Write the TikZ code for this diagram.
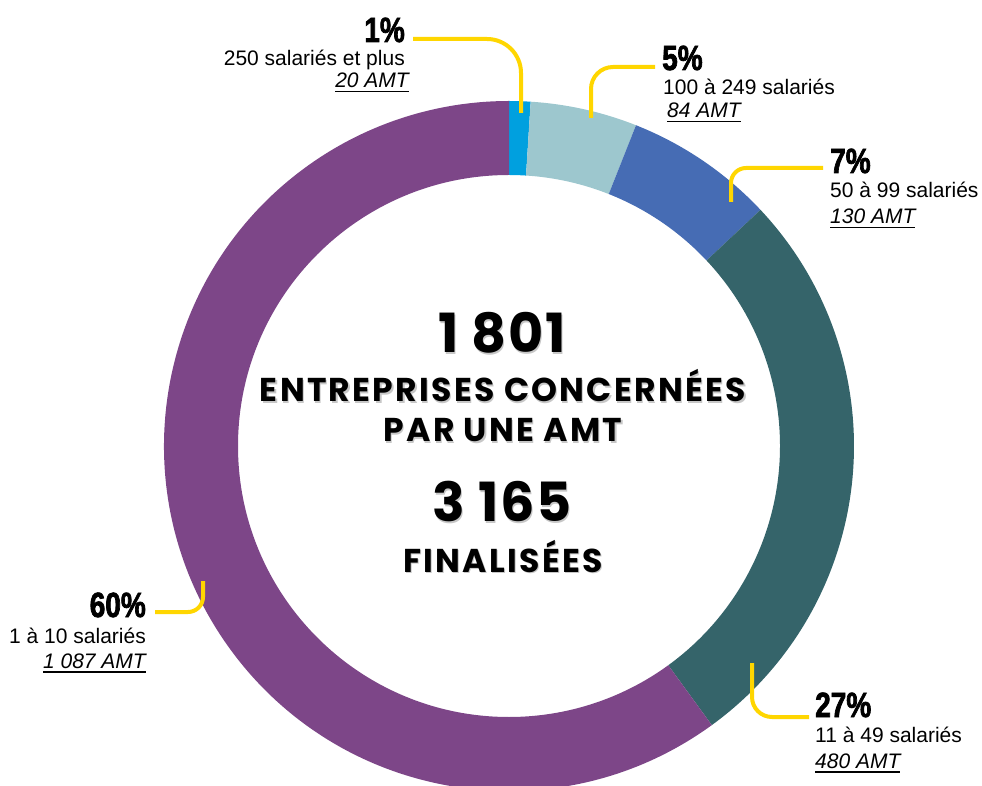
\documentclass[tikz,border=0pt]{standalone}
\usepackage{fontspec}
\usetikzlibrary{calc}
\setmainfont{Liberation Sans}
\newfontfamily\popfont{Poppins}[LetterSpace=7]
\newfontfamily\popnum{Poppins}[LetterSpace=3]
\newfontfamily\pctfont{Liberation Sans}[FakeStretch=0.8,FakeBold=2]
\definecolor{cpurple}{RGB}{125,70,136}
\definecolor{cteal}{RGB}{53,100,106}
\definecolor{cblue}{RGB}{70,108,180}
\definecolor{clight}{RGB}{157,199,206}
\definecolor{cbright}{RGB}{0,160,223}
\definecolor{cyellow}{RGB}{255,214,0}
\newcommand\ulx[1]{\setbox0=\hbox{#1}\rlap{\rule[-4.5pt]{\wd0}{1.8pt}}\box0}
\newcommand\shd[1]{\leavevmode\rlap{\kern1.2pt\raisebox{-1.2pt}{\textcolor{black!22}{#1}}}#1}
\newcommand\seg[3]{\fill[#1] ($(509,339)+(#2:345)$) arc[start angle=#2,end angle=#3,radius=345] -- ($(509,339)+(#3:271)$) arc[start angle=#3,end angle=#2,radius=271] -- cycle;}
\begin{document}
\begin{tikzpicture}[x=1pt,y=1pt,
  pct/.style={inner sep=0pt,font=\pctfont\bfseries\fontsize{35}{35}\selectfont},
  lbl/.style={inner sep=0pt,font=\fontsize{21}{24}\selectfont},
  amt/.style={inner sep=0pt,font=\itshape\fontsize{21}{24}\selectfont},
  bignum/.style={inner sep=0pt,font=\popnum\bfseries\fontsize{54}{54}\selectfont},
  bigtxt/.style={inner sep=0pt,font=\popfont\bfseries\fontsize{33}{36}\selectfont},
  leader/.style={draw=cyellow,line width=4pt}]
\useasboundingbox (0,0) rectangle (982,785);
% donut segments
\seg{cbright}{90}{86.4}
\seg{clight}{86.4}{68.4}
\seg{cblue}{68.4}{43.2}
\seg{cteal}{43.2}{-54}
\seg{cpurple}{-54}{-270}
% centre texts
\node[bignum,anchor=base] (n1) at (502,432) {\shd{1 801}};
\node[bigtxt,anchor=base] (t1) at (503,383) {\shd{ENTREPRISES CONCERNÉES}};
\node[bigtxt,anchor=base] (t2) at (503,343) {\shd{PAR UNE AMT}};
\node[bignum,anchor=base] (n2) at (502,263) {\shd{3 165}};
\node[bigtxt,anchor=base] (t3) at (503,213) {\shd{FINALISÉES}};
% 1%
\node[pct,anchor=base east] (p1) at (405,743) {1\%};
\node[lbl,anchor=base east] (l1) at (405,719) {250 salariés et plus};
\node[amt,anchor=base east] (a1) at (409,697) {\ulx{20 AMT}};
% 5%
\node[pct,anchor=base west] (p5) at (662,715) {5\%};
\node[lbl,anchor=base west] (l5) at (663,690) {100 à 249 salariés};
\node[amt,anchor=base west] (a5) at (667,667) {\ulx{84 AMT}};
% 7%
\node[pct,anchor=base west] (p7) at (830,612) {7\%};
\node[lbl,anchor=base west] (l7) at (830,587) {50 à 99 salariés};
\node[amt,anchor=base west] (a7) at (830,561) {\ulx{130 AMT}};
% 60%
\node[pct,anchor=base east] (p60) at (146,168) {60\%};
\node[lbl,anchor=base east] (l60) at (146,142) {1 à 10 salariés};
\node[amt,anchor=base east] (a60) at (146,117) {\ulx{1 087 AMT}};
% 27%
\node[pct,anchor=base west] (p27) at (815,68) {27\%};
\node[lbl,anchor=base west] (l27) at (815,43) {11 à 49 salariés};
\node[amt,anchor=base west] (a27) at (815,17) {\ulx{480 AMT}};
% leader lines
\coordinate (s1) at (413,746); \coordinate (c1) at (521,746); \coordinate (e1) at (521,672);
\coordinate (s5) at (655,718); \coordinate (c5) at (591,718); \coordinate (e5) at (591,667);
\coordinate (s7) at (823,617); \coordinate (c7) at (731,617); \coordinate (e7) at (731,583);
\coordinate (s60) at (155,173); \coordinate (c60) at (203,173); \coordinate (e60) at (203,204);
\coordinate (s27) at (809,68); \coordinate (c27) at (752,68); \coordinate (e27) at (752,122);
\draw[leader,rounded corners=34pt] (s1) -- (c1) -- (e1);
\draw[leader,rounded corners=22pt] (s5) -- (c5) -- (e5);
\draw[leader,rounded corners=15pt] (s7) -- (c7) -- (e7);
\draw[leader,rounded corners=15pt] (s60) -- (c60) -- (e60);
\draw[leader,rounded corners=20pt] (s27) -- (c27) -- (e27);
\end{tikzpicture}
\end{document}
